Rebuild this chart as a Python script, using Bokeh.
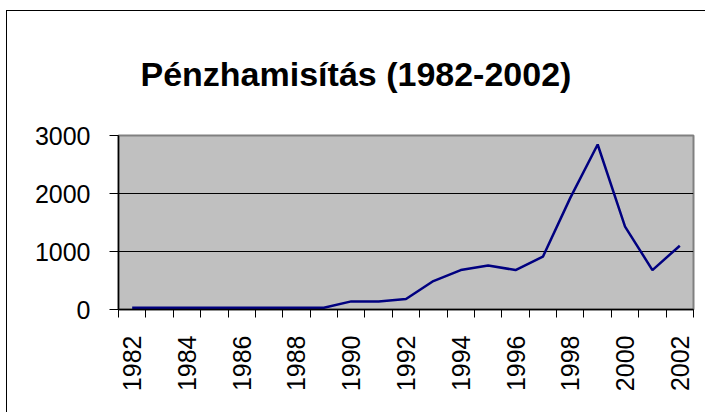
import math
from bokeh.plotting import figure
from bokeh.models import FixedTicker, Range1d
from bokeh.embed import file_html
from bokeh.resources import INLINE

# ---- data ----
years = [1982, 1983, 1984, 1985, 1986, 1987, 1988, 1989, 1990, 1991, 1992,
         1993, 1994, 1995, 1996, 1997, 1998, 1999, 2000, 2001, 2002]
cases = [30, 30, 30, 30, 30, 30, 30, 30, 140, 140, 180,
         490, 680, 760, 680, 910, 1925, 2845, 1430, 680, 1100]
labelled_years = [1982, 1984, 1986, 1988, 1990, 1992, 1994, 1996, 1998, 2000, 2002]
y_ticks = [0, 1000, 2000, 3000]
title_text = "Pénzhamisítás (1982-2002)"

FONT = "Liberation Sans"

p = figure(width=699, height=402, output_backend="svg", toolbar_location=None,
           x_range=Range1d(years[0] - 0.5, years[-1] + 0.5),
           y_range=Range1d(y_ticks[0], y_ticks[-1]))
p.min_border = 0
p.min_border_left = 111
p.min_border_right = 13
p.min_border_top = 124
p.min_border_bottom = 104
p.border_fill_color = "white"
p.background_fill_color = "#C0C0C0"
p.outline_line_color = "#808080"
p.outline_line_width = 2
p.styles = {"border-top": "1px solid black", "border-left": "1px solid black",
            "border-right": "none", "border-bottom": "none",
            "margin-left": "6px", "margin-top": "10px"}

p.line(years, cases, line_color="#000080", line_width=2.5)

# title
p.title.text = title_text
p.title.align = "left"
p.title.vertical_align = "top"
p.title.offset = 22
p.title.standoff = 82
p.title.text_font = FONT
p.title.text_font_style = "bold"
p.title.text_font_size = "34px"
p.title.text_color = "black"

# grid
p.xgrid.grid_line_color = None
p.ygrid.ticker = FixedTicker(ticks=y_ticks)
p.ygrid.grid_line_color = "black"
p.ygrid.grid_line_width = 1

# y axis
ya = p.yaxis[0]
ya.ticker = FixedTicker(ticks=y_ticks)
ya.axis_line_color = "black"
ya.axis_line_width = 1.5
ya.major_tick_in = 0
ya.major_tick_out = 9
ya.major_tick_line_color = "black"
ya.minor_tick_line_color = None
ya.major_label_standoff = 19
ya.major_label_text_font = FONT
ya.major_label_text_font_size = "25px"
ya.major_label_text_color = "black"

# x axis: labels on even years, tick marks between categories
xa = p.xaxis[0]
bounds = [y - 0.5 for y in years] + [years[-1] + 0.5]
xa.ticker = FixedTicker(ticks=labelled_years, minor_ticks=bounds)
xa.axis_line_color = "black"
xa.axis_line_width = 1.5
xa.major_tick_in = 0
xa.major_tick_out = 8
xa.major_tick_line_color = None
xa.minor_tick_in = 0
xa.minor_tick_out = 8
xa.minor_tick_line_color = "black"
xa.major_label_orientation = math.pi / 2
xa.major_label_standoff = 18
xa.major_label_text_font = FONT
xa.major_label_text_font_size = "25px"
xa.major_label_text_color = "black"

open("out.html", "w").write(file_html(p, INLINE))
